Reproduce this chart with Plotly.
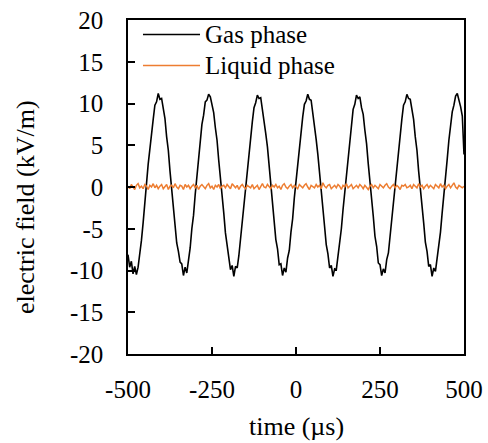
import plotly.graph_objects as go

# ---- data ----
time_us = list(range(-500, 501, 5))  # sampling times, us

gas_phase = [
    -8.1, -9.6, -8.9, -10.4, -9.5, -10.5, -9.6, -8.1, -6.4, -4.3,
    -1.8, 0.4, 2.7, 4.5, 6.8, 8.1, 9.8, 10.2, 11.2, 10.5,
    10.6, 9.1, 8.2, 6.0, 4.4, 1.9, -0.1, -2.6, -4.3, -6.7,
    -7.7, -9.0, -9.2, -10.6, -9.6, -10.3, -8.8, -7.3, -5.0, -3.4,
    -0.9, 1.3, 3.2, 5.6, 7.5, 8.6, 10.2, 10.4, 11.1, 10.8,
    9.7, 8.9, 7.1, 5.6, 3.2, 1.3, -1.2, -3.1, -5.5, -7.2,
    -8.2, -9.9, -9.4, -10.7, -9.5, -9.7, -8.2, -6.1, -4.6, -2.2,
    -0.3, 2.2, 4.1, 6.4, 7.8, 9.5, 10.1, 11.0, 10.6, 10.7,
    9.3, 8.4, 6.4, 4.8, 2.4, 0.2, -2.1, -3.9, -6.3, -7.4,
    -9.3, -9.2, -10.6, -9.7, -10.2, -8.5, -7.6, -5.4, -3.8, -1.3,
    0.6, 3.1, 4.9, 7.1, 8.4, 9.9, 10.3, 11.1, 10.5, 10.4,
    8.9, 7.8, 5.7, 3.9, 1.5, -0.5, -2.9, -4.7, -6.9, -8.0,
    -9.7, -9.4, -10.7, -9.8, -9.9, -8.4, -6.5, -5.0, -2.7, -0.7,
    1.8, 3.7, 6.0, 7.5, 9.3, 9.9, 11.0, 10.6, 10.8, 9.5,
    8.7, 6.8, 5.2, 2.8, 0.9, -1.6, -3.5, -5.9, -7.1, -9.1,
    -9.3, -10.6, -9.8, -10.3, -8.7, -7.9, -5.8, -4.2, -1.8, 0.2,
    2.7, 4.5, 6.8, 8.1, 9.8, 10.2, 11.1, 10.6, 10.5, 9.1,
    8.1, 6.0, 4.4, 1.9, 0.0, -2.5, -4.3, -6.6, -7.7, -9.5,
    -9.3, -10.7, -9.7, -10.1, -8.6, -6.8, -5.4, -3.1, -1.2, 1.3,
    3.3, 5.6, 7.2, 9.0, 9.8, 10.9, 11.2, 10.5, 9.6, 8.5,
    3.9,
]

liquid_phase = [
    0.1, -0.2, 0.3, 0.0, -0.3, 0.2, 0.4, -0.1, 0.1, -0.2,
    0.3, 0.1, -0.3, 0.2, 0.0, 0.4, -0.1, 0.2, -0.2, 0.1,
    0.3, -0.2, 0.0, 0.3, -0.3, 0.1, 0.2, -0.1, 0.4, 0.0,
    -0.2, 0.2, 0.1, -0.3, 0.3, 0.0, 0.2, -0.2, 0.1, 0.3,
    -0.1, 0.2, -0.3, 0.1, 0.3, 0.0, -0.2, 0.2, 0.4, -0.1,
    0.1, -0.3, 0.2, 0.0, 0.3, -0.2, 0.1, 0.2, -0.1, 0.3,
    0.0, -0.2, 0.4, 0.1, -0.1, 0.2, -0.3, 0.1, 0.3, 0.0,
    -0.2, 0.2, 0.1, -0.1, 0.3, -0.2, 0.0, 0.2, -0.3, 0.1,
    0.4, 0.0, -0.1, 0.3, 0.1, -0.2, 0.2, 0.0, 0.3, -0.1,
    0.1, -0.3, 0.2, 0.4, 0.0, -0.2, 0.1, 0.3, -0.1, 0.2,
    0.0, -0.2, 0.3, 0.1, -0.1, 0.2, 0.4, 0.0, -0.3, 0.2,
    0.1, -0.1, 0.3, 0.0, 0.2, -0.2, 0.5, 0.1, -0.1, 0.2,
    0.3, -0.2, 0.0, 0.2, -0.1, 0.3, 0.1, -0.3, 0.2, 0.0,
    0.4, -0.1, 0.1, 0.3, -0.2, 0.0, 0.2, -0.1, 0.3, 0.1,
    -0.2, 0.2, 0.0, -0.3, 0.1, 0.3, -0.1, 0.2, 0.0, -0.2,
    0.3, 0.1, -0.1, 0.2, 0.4, 0.0, -0.2, 0.1, 0.3, -0.1,
    0.2, 0.0, -0.3, 0.2, 0.1, 0.3, -0.1, 0.0, 0.2, -0.2,
    0.3, 0.1, -0.1, 0.4, 0.0, 0.2, -0.2, 0.1, 0.3, -0.1,
    0.2, 0.0, -0.2, 0.3, 0.1, -0.1, 0.4, 0.0, 0.2, -0.2,
    0.1, 0.3, -0.1, 0.2, 0.5, 0.0, -0.2, 0.2, 0.1, -0.1,
    0.1,
]

x_ticks = [-500, -250, 0, 250, 500]
x_tick_labels = ["-500", "-250", "0", "250", "500"]
y_ticks = [-20, -15, -10, -5, 0, 5, 10, 15, 20]
y_tick_labels = ["-20", "-15", "-10", "-5", "0", "5", "10", "15", "20"]

series_names = ["Gas phase", "Liquid phase"]
series_colors = ["#000000", "#ED7D31"]

FONT = "Liberation Serif"

fig = go.Figure()
fig.add_trace(go.Scatter(x=time_us, y=gas_phase, mode="lines", name=series_names[0],
                         line=dict(color=series_colors[0], width=1.6)))
fig.add_trace(go.Scatter(x=time_us, y=liquid_phase, mode="lines", name=series_names[1],
                         line=dict(color=series_colors[1], width=1.5)))

axis_common = dict(showline=True, linecolor="black", linewidth=1.5, mirror=True,
                   ticks="inside", ticklen=7, tickwidth=1.5, tickcolor="black",
                   showgrid=False, zeroline=False, automargin=False,
                   tickfont=dict(family=FONT, size=25, color="black"))

fig.update_xaxes(range=[-500, 500], tickmode="array", tickvals=x_ticks,
                 ticktext=x_tick_labels, ticklabelstandoff=12, **axis_common)
fig.update_yaxes(range=[-20, 20], tickmode="array", tickvals=y_ticks,
                 ticktext=y_tick_labels, ticklabelstandoff=18, **axis_common)

annotations = [
    dict(text="time (µs)", xref="paper", yref="paper", x=0.5, y=-0.217,
         xanchor="center", yanchor="middle", showarrow=False,
         font=dict(family=FONT, size=26, color="black")),
    dict(text="electric field (kV/m)", xref="paper", yref="paper", x=-0.3065, y=0.44,
         xanchor="center", yanchor="middle", textangle=-90, showarrow=False,
         font=dict(family=FONT, size=26, color="black")),
]
legend_y = [0.9566, 0.8638]
shapes = []
for name, color, ly in zip(series_names, series_colors, legend_y):
    shapes.append(dict(type="line", xref="paper", yref="paper", x0=0.0446, x1=0.2143,
                       y0=ly, y1=ly, line=dict(color=color, width=1.6)))
    annotations.append(dict(text=name, xref="paper", yref="paper", x=0.2232, y=ly,
                            xanchor="left", yanchor="middle", showarrow=False,
                            font=dict(family=FONT, size=25, color="black")))

fig.update_layout(width=488, height=443, margin=dict(l=128, r=24, t=20, b=89),
                  font=dict(family=FONT, color="black"),
                  paper_bgcolor="white", plot_bgcolor="white", showlegend=False,
                  annotations=annotations, shapes=shapes)

fig.write_html("out.html")
